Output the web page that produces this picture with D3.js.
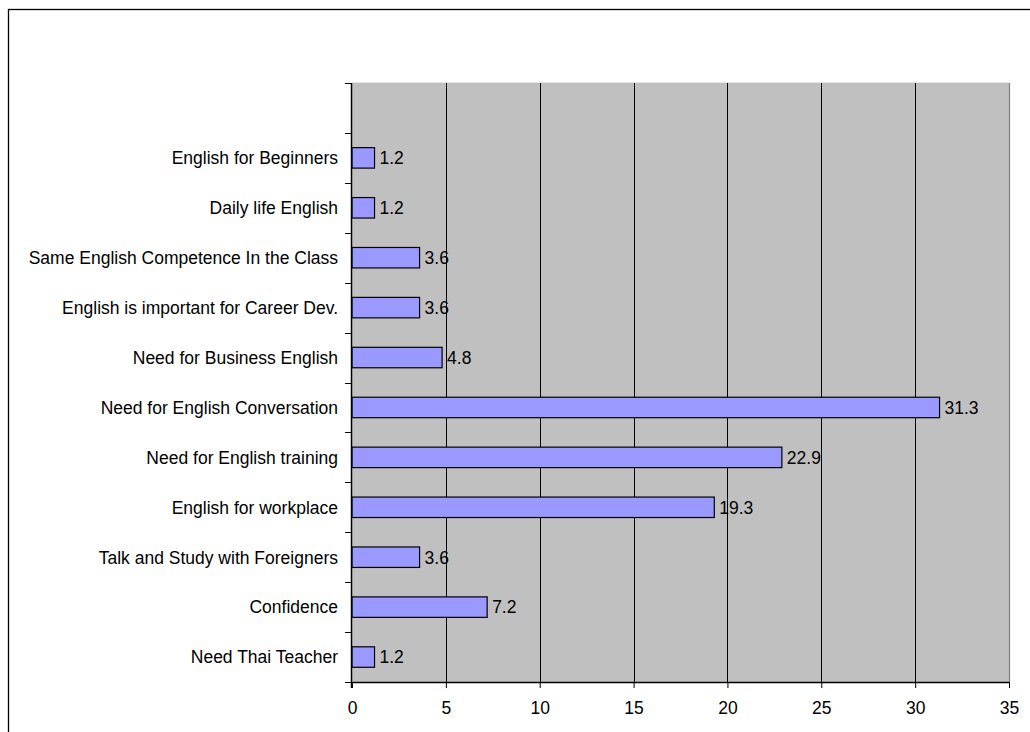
<!DOCTYPE html>
<html>
<head>
<meta charset="utf-8">
<script src="https://cdn.jsdelivr.net/npm/d3@7"></script>
<style>
  html, body { margin: 0; padding: 0; background: #fff; }
  svg { display: block; font-family: "Liberation Sans", Arial, sans-serif; }
</style>
</head>
<body>
<svg id="chart" width="1030" height="732"></svg>
<script>
// Categories listed top to bottom; the first slot is an empty row in the chart
const categories = [
  "",
  "English for Beginners",
  "Daily life English",
  "Same English Competence In the Class",
  "English is important for Career Dev.",
  "Need for Business English",
  "Need for English Conversation",
  "Need for English training",
  "English for workplace",
  "Talk and Study with Foreigners",
  "Confidence",
  "Need Thai Teacher"
];
const values = [null, 1.2, 1.2, 3.6, 3.6, 4.8, 31.3, 22.9, 19.3, 3.6, 7.2, 1.2];
const xTicks = [0, 5, 10, 15, 20, 25, 30, 35];

const FONT = 17.5;
const svg = d3.select("#chart");

// outer frame
svg.append("rect")
  .attr("x", 8.5).attr("y", 9.5)
  .attr("width", 1040).attr("height", 740)
  .attr("fill", "none").attr("stroke", "#000").attr("stroke-width", 1.3);

const plot = { left: 352, top: 83, right: 1009, bottom: 682 };

const x = d3.scaleLinear().domain([0, 35]).range([plot.left, plot.right]);
const y = d3.scaleBand()
  .domain(d3.range(categories.length))
  .range([plot.top, plot.bottom])
  .paddingInner(0.59).paddingOuter(0.295);

// plot background
svg.append("rect")
  .attr("x", plot.left).attr("y", plot.top)
  .attr("width", plot.right - plot.left).attr("height", plot.bottom - plot.top)
  .attr("fill", "#C0C0C0");

// right and top edges of the plot area
svg.append("line")
  .attr("x1", plot.right + 0.5).attr("x2", plot.right + 0.5)
  .attr("y1", plot.top).attr("y2", plot.bottom)
  .attr("stroke", "#808080").attr("stroke-width", 1.2);
svg.append("line")
  .attr("x1", plot.left).attr("x2", plot.right)
  .attr("y1", plot.top - 0.5).attr("y2", plot.top - 0.5)
  .attr("stroke", "#e6e6e6").attr("stroke-width", 1);

// vertical gridlines
svg.append("g")
  .selectAll("line")
  .data(xTicks.filter(t => t > 0 && t < 35))
  .join("line")
  .attr("x1", d => Math.round(x(d)) + 0.5).attr("x2", d => Math.round(x(d)) + 0.5)
  .attr("y1", plot.top).attr("y2", plot.bottom)
  .attr("stroke", "#000").attr("stroke-width", 1);

// bars
const rows = categories.map((c, i) => ({ c, v: values[i], i })).filter(d => d.v != null);
svg.append("g")
  .selectAll("rect")
  .data(rows)
  .join("rect")
  .attr("x", x(0))
  .attr("y", d => y(d.i))
  .attr("width", d => x(d.v) - x(0))
  .attr("height", y.bandwidth())
  .attr("fill", "#9999FF")
  .attr("stroke", "#000")
  .attr("stroke-width", 1.2);

// value labels
svg.append("g")
  .selectAll("text")
  .data(rows)
  .join("text")
  .attr("x", d => x(d.v) + 5)
  .attr("y", d => y(d.i) + y.bandwidth() / 2)
  .attr("dy", "0.36em")
  .attr("font-size", FONT)
  .attr("fill", "#000")
  .text(d => d.v.toFixed(1));

// x axis
const xAxis = svg.append("g")
  .attr("transform", `translate(0,${plot.bottom})`)
  .call(d3.axisBottom(x).tickValues(xTicks).tickSize(6).tickSizeOuter(0).tickPadding(14));
xAxis.select(".domain").attr("stroke", "#000").attr("stroke-width", 1.5);
xAxis.selectAll(".tick line").attr("stroke", "#000");
xAxis.selectAll("text")
  .attr("font-size", FONT)
  .attr("font-family", "Liberation Sans, Arial, sans-serif")
  .attr("fill", "#000");

// y axis: ticks between categories
const yTickPos = d3.range(categories.length + 1).map(i => plot.top + i * (plot.bottom - plot.top) / categories.length);
svg.append("line")
  .attr("x1", plot.left - 0.5).attr("x2", plot.left - 0.5)
  .attr("y1", plot.top).attr("y2", plot.bottom + 6)
  .attr("stroke", "#000").attr("stroke-width", 1.5);
svg.append("g")
  .selectAll("line")
  .data(yTickPos)
  .join("line")
  .attr("x1", plot.left - 7).attr("x2", plot.left)
  .attr("y1", d => Math.round(d) + 0.5).attr("y2", d => Math.round(d) + 0.5)
  .attr("stroke", "#000").attr("stroke-width", 1);

// category labels
svg.append("g")
  .selectAll("text")
  .data(categories.map((c, i) => ({ c, i })))
  .join("text")
  .attr("x", 338)
  .attr("y", d => y(d.i) + y.bandwidth() / 2)
  .attr("dy", "0.36em")
  .attr("text-anchor", "end")
  .attr("font-size", FONT)
  .attr("fill", "#000")
  .text(d => d.c);
</script>
</body>
</html>
